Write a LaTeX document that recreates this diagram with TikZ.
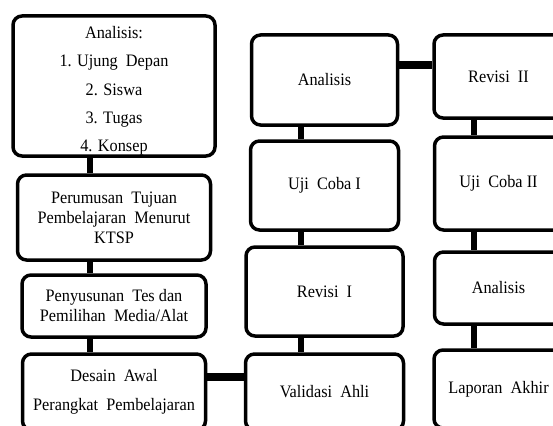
\documentclass[tikz,border=0pt]{standalone}
\usepackage{fontspec}
\setmainfont{Liberation Serif}[FakeStretch=0.93]
\usepackage{tikz}
\tikzstyle{box} = [draw, line width=3.5pt, rounded corners=9pt, align=center, inner sep=0pt, font=\fontsize{17.5}{20}\selectfont]
\tikzstyle{vlink} = [-, line width=6pt]
\tikzstyle{hlink} = [-, line width=8pt]

\begin{document}
\begin{tikzpicture}[x=1pt, y=-1pt]
\useasboundingbox (0,0) rectangle (553,425);
\clip (0,0) rectangle (553,425);
% first column
\node [box, minimum width=202pt, minimum height=140pt, font=\fontsize{17.5}{28.3}\selectfont] (a1) at (114, 86) {\rule{0pt}{22pt}Analisis:\\1. Ujung~~Depan\\2. Siswa\\3. Tugas\\4. Konsep};
\node [box, minimum width=193pt, minimum height=85pt] (a2) at (114, 217.5) {Perumusan~~Tujuan\\Pembelajaran~~Menurut\\KTSP};
\node [box, minimum width=184pt, minimum height=62pt] (a3) at (114, 306) {Penyusunan~~Tes dan\\Pemilihan~~Media/Alat};
\node [box, minimum width=183pt, minimum height=76pt, font=\fontsize{17.5}{29}\selectfont] (a4) at (114, 392) {Desain~~Awal\\Perangkat~~Pembelajaran};
% second column
\node [box, minimum width=146pt, minimum height=90pt] (b1) at (324.5, 80) {Analisis};
\node [box, minimum width=148pt, minimum height=89pt] (b2) at (324.5, 185.5) {Uji~~Coba I};
\node [box, minimum width=157pt, minimum height=89pt] (b3) at (324.5, 291.5) {Revisi~~I};
\node [box, minimum width=158pt, minimum height=76pt] (b4) at (324.5, 392) {Validasi~~Ahli};
% third column
\node [box, minimum width=129pt, minimum height=83pt] (c1) at (498.5, 76.5) {Revisi~~II};
\node [box, minimum width=128pt, minimum height=93pt] (c2) at (498.5, 183.5) {Uji~~Coba II};
\node [box, minimum width=128pt, minimum height=72pt] (c3) at (498.5, 288) {Analisis};
\node [box, minimum width=129pt, minimum height=78pt] (c4) at (498.5, 389) {Laporan~~Akhir};
% links
\draw [vlink] ([xshift=-24pt]a1.south) -- ([xshift=-24pt]a2.north);
\draw [vlink] ([xshift=-24pt]a2.south) -- ([xshift=-24pt]a3.north);
\draw [vlink] ([xshift=-24pt]a3.south) -- ([xshift=-24pt]a4.north);
\draw [hlink] ([yshift=15pt]a4.east) -- ([yshift=15pt]b4.west);
\draw [vlink] ([xshift=-23.5pt]b4.north) -- ([xshift=-23.5pt]b3.south);
\draw [vlink] ([xshift=-23.5pt]b3.north) -- ([xshift=-23.5pt]b2.south);
\draw [vlink] ([xshift=-23.5pt]b2.north) -- ([xshift=-23.5pt]b1.south);
\draw [hlink] ([yshift=15pt]b1.east) -- ([yshift=11.5pt]c1.west);
\draw [vlink] ([xshift=-24.5pt]c1.south) -- ([xshift=-24.5pt]c2.north);
\draw [vlink] ([xshift=-24.5pt]c2.south) -- ([xshift=-24.5pt]c3.north);
\draw [vlink] ([xshift=-24.5pt]c3.south) -- ([xshift=-24.5pt]c4.north);
\end{tikzpicture}
\end{document}
